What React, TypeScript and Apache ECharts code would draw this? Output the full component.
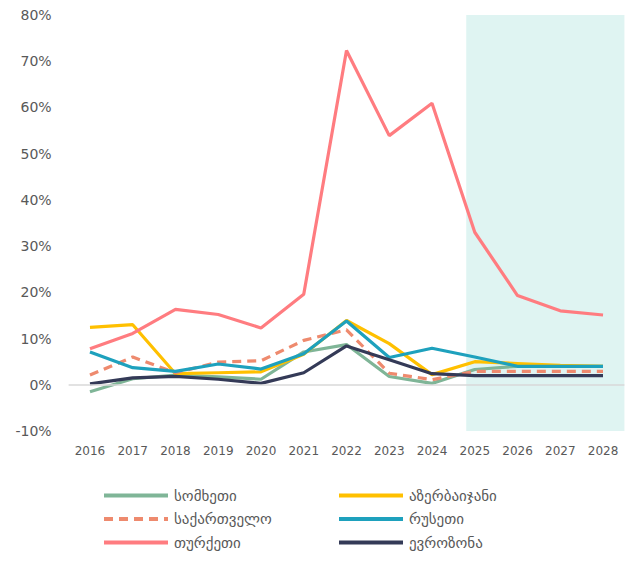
import React, { useEffect, useRef } from "react";
import * as echarts from "echarts";

const years = ["2016","2017","2018","2019","2020","2021","2022","2023","2024","2025","2026","2027","2028"];
const armenia = [-1.5, 1.3, 2.1, 1.7, 1.2, 7.1, 8.7, 1.8, 0.3, 3.3, 4.0, 4.0, 4.0];
const azerbaijan = [12.4, 13.0, 2.4, 2.6, 2.8, 6.6, 13.9, 8.9, 2.2, 5.0, 4.6, 4.2, 4.0];
const georgia = [2.1, 6.0, 2.6, 4.9, 5.2, 9.6, 11.9, 2.5, 1.1, 2.9, 2.9, 2.9, 2.9];
const russia = [7.1, 3.7, 2.9, 4.5, 3.4, 6.7, 13.8, 5.9, 7.9, 6.0, 4.0, 4.0, 4.0];
const turkey = [7.8, 11.1, 16.3, 15.2, 12.3, 19.6, 72.3, 53.9, 60.9, 33.0, 19.3, 16.0, 15.1];
const eurozone = [0.2, 1.5, 1.8, 1.2, 0.3, 2.6, 8.4, 5.4, 2.4, 2.0, 2.0, 2.0, 2.0];
const forecastStart = 8.8; // category index where the shaded forecast band begins

const names = ["სომხეთი", "აზერბაიჯანი", "საქართველო", "რუსეთი", "თურქეთი", "ევროზონა"];

export default function App() {
  const ref = useRef<HTMLDivElement>(null);
  useEffect(() => {
    document.body.style.margin = "0";
    const chart = echarts.init(ref.current!, null, { renderer: "svg" });
    const font = "'DejaVu Sans', sans-serif";
    const mk = (name: string, data: number[], color: string, dashed = false) => ({
      name,
      type: "line",
      data,
      symbol: "none",
      color,
      lineStyle: dashed
        ? { color, width: 3.2, type: [9, 6], cap: "butt" }
        : { color, width: 3.2 },
      z: 3,
    });
    const legendBase = {
      orient: "vertical",
      top: 483,
      height: 90,
      itemWidth: 64,
      itemHeight: 14,
      itemGap: 8.5,
      itemStyle: { color: "rgba(0,0,0,0)", borderWidth: 0 },
      lineStyle: { width: 4 },
      textStyle: { color: "#595959", fontSize: 15, fontFamily: font, padding: [0, 0, 0, 1] },
    };
    chart.setOption({
      animation: false,
      backgroundColor: "#ffffff",
      textStyle: { fontFamily: font },
      grid: { left: 68.6, right: 2.6, top: 15, bottom: 130, containLabel: false },
      xAxis: [
        {
          type: "category",
          data: years,
          boundaryGap: true,
          axisLine: { show: false, onZero: false },
          axisTick: { show: false },
          axisLabel: { color: "#595959", fontSize: 12, margin: 14, fontFamily: font },
          splitLine: { show: false },
        },
        { type: "value", min: -0.5, max: 12.5, show: false },
      ],
      yAxis: {
        type: "value",
        min: -10,
        max: 80,
        interval: 10,
        axisLine: { show: false },
        axisTick: { show: false },
        splitLine: { show: false },
        axisLabel: {
          color: "#595959",
          fontSize: 14,
          margin: 17,
          fontFamily: font,
          formatter: (v: number) => `${v}%`,
        },
      },
      legend: [
        { ...legendBase, data: [names[0], names[2], names[4]], left: 97 },
        { ...legendBase, data: [names[1], names[3], names[5]], left: 332 },
      ],
      series: [
        {
          name: "zero",
          type: "line",
          data: [],
          silent: true,
          z: 1,
          markLine: {
            silent: true,
            symbol: "none",
            label: { show: false },
            lineStyle: { color: "#d9d9d9", width: 1.5, type: "solid" },
            data: [{ yAxis: 0 }],
          },
        },
        mk(names[0], armenia, "#7fb597"),
        mk(names[1], azerbaijan, "#ffc000"),
        mk(names[2], georgia, "#ee8a6e", true),
        mk(names[3], russia, "#1ea1bd"),
        mk(names[4], turkey, "#ff7c80"),
        mk(names[5], eurozone, "#343a57"),
        {
          name: "forecast",
          type: "line",
          xAxisIndex: 1,
          data: [[forecastStart, null]],
          symbol: "none",
          silent: true,
          z: 10,
          markArea: {
            silent: true,
            itemStyle: { color: "rgba(178,228,225,0.42)" },
            data: [[{ xAxis: forecastStart }, { xAxis: 12.5 }]],
          },
        },
      ],
    });
    return () => chart.dispose();
  }, []);
  return <div ref={ref} style={{ width: 627, height: 561 }} />;
}
